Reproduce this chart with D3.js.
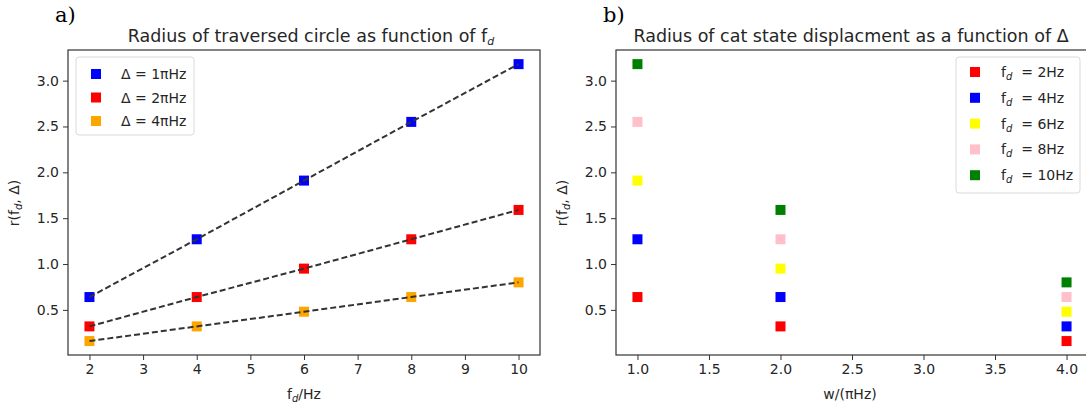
<!DOCTYPE html>
<html>
<head>
<meta charset="utf-8">
<script src="https://cdn.jsdelivr.net/npm/d3@7"></script>
<style>
  body { margin: 0; background: #fff; }
  text { font-family: "DejaVu Sans", sans-serif; fill: #262626; }
  .tick text { font-size: 14px; }
</style>
</head>
<body>
<div id="chart"></div>
<script>
// Panel a) data: radius vs drive frequency
var fdValues = [2, 4, 6, 8, 10];
var rDelta1 = [0.64, 1.27, 1.91, 2.55, 3.18];
var rDelta2 = [0.32, 0.64, 0.95, 1.27, 1.59];
var rDelta4 = [0.16, 0.32, 0.48, 0.64, 0.80];
var deltaLabels = ["Δ = 1πHz", "Δ = 2πHz", "Δ = 4πHz"];
var deltaColors = ["#0000ff", "#ff0000", "#ffa500"];

// Panel b) data: radius vs w
var wValues = [1, 2, 4];
var rFd2 = [0.64, 0.32, 0.16];
var rFd4 = [1.27, 0.64, 0.32];
var rFd6 = [1.91, 0.95, 0.48];
var rFd8 = [2.55, 1.27, 0.64];
var rFd10 = [3.18, 1.59, 0.80];
var fdLabels = ["2Hz", "4Hz", "6Hz", "8Hz", "10Hz"];
var fdColors = ["#ff0000", "#0000ff", "#ffff00", "#ffc0cb", "#008000"];

var yTicks = [0.5, 1.0, 1.5, 2.0, 2.5, 3.0];
var xTicksA = [2, 3, 4, 5, 6, 7, 8, 9, 10];
var xTicksB = [1.0, 1.5, 2.0, 2.5, 3.0, 3.5, 4.0];

var svg = d3.select("#chart").append("svg")
  .attr("width", 1086)
  .attr("height", 407);

var plotTop = 50, plotBottom = 355;
var ms = 10; // marker size

function panel(opts) {
  var g = svg.append("g");
  var x = d3.scaleLinear().domain(opts.xDomain).range([opts.left, opts.right]);
  var y = d3.scaleLinear().domain([0.008, 3.334]).range([plotBottom, plotTop]);

  g.append("g")
    .attr("transform", `translate(0, ${plotBottom})`)
    .call(d3.axisBottom(x).tickValues(opts.xTicks).tickFormat(opts.xFormat).tickSize(5).tickPadding(4))
    .call(s => s.select(".domain").remove());
  g.append("g")
    .attr("transform", `translate(${opts.left}, 0)`)
    .call(d3.axisLeft(y).tickValues(yTicks).tickFormat(d3.format(".1f")).tickSize(5).tickPadding(4))
    .call(s => s.select(".domain").remove());
  g.selectAll(".tick line").attr("stroke", "#333");

  // frame
  g.append("rect")
    .attr("x", opts.left).attr("y", plotTop)
    .attr("width", opts.right - opts.left).attr("height", plotBottom - plotTop)
    .attr("fill", "none").attr("stroke", "#333").attr("stroke-width", 1.2);

  // title
  var t = g.append("text")
    .attr("x", (opts.left + Math.min(opts.right, 1086)) / 2 + opts.titleShift)
    .attr("y", 42)
    .attr("text-anchor", "middle")
    .style("font-size", "17.5px");
  opts.title(t);

  // panel letter
  g.append("text")
    .attr("x", opts.left - 13).attr("y", 22)
    .style("font-family", "'DejaVu Serif', serif")
    .style("font-size", "21px")
    .style("fill", "#000")
    .text(opts.letter);

  // axis labels
  var xl = g.append("text")
    .attr("x", (opts.left + opts.right) / 2 + opts.xLabelShift)
    .attr("y", 399)
    .attr("text-anchor", "middle")
    .style("font-size", "14px");
  opts.xLabel(xl);

  var yl = g.append("text")
    .attr("transform", `translate(${opts.left - 49}, 203) rotate(-90)`)
    .attr("text-anchor", "middle")
    .style("font-size", "14px");
  yl.append("tspan").text("r(f");
  yl.append("tspan").attr("font-size", "10px").attr("font-style", "italic").attr("dy", 3).text("d");
  yl.append("tspan").attr("dy", -3).text(", Δ)");

  return {g: g, x: x, y: y};
}

// ---------- Panel a ----------
var pa = panel({
  left: 68, right: 540, xDomain: [1.6, 10.4], xTicks: xTicksA, xFormat: d3.format("d"),
  letter: "a)", titleShift: 7, xLabelShift: 0,
  title: function(t) {
    t.append("tspan").text("Radius of traversed circle as function of f");
    t.append("tspan").attr("font-size", "11px").attr("font-style", "italic").attr("dy", 3).text("d");
  },
  xLabel: function(t) {
    t.append("tspan").text("f");
    t.append("tspan").attr("font-size", "10px").attr("font-style", "italic").attr("dy", 3).text("d");
    t.append("tspan").attr("dy", -3).text("/Hz");
  }
});

var seriesA = [rDelta1, rDelta2, rDelta4];
seriesA.forEach(function(vals, i) {
  var pts = fdValues.map((f, j) => [f, vals[j]]);
  pa.g.selectAll(null).data(pts).enter().append("rect")
    .attr("x", d => pa.x(d[0]) - ms / 2)
    .attr("y", d => pa.y(d[1]) - ms / 2)
    .attr("width", ms).attr("height", ms)
    .attr("fill", deltaColors[i]);
  pa.g.append("path")
    .datum(pts)
    .attr("d", d3.line().x(d => pa.x(d[0])).y(d => pa.y(d[1])))
    .attr("fill", "none")
    .attr("stroke", "#333")
    .attr("stroke-width", 2)
    .attr("stroke-dasharray", "6,3");
});

// legend a
var lga = pa.g.append("g");
lga.append("rect")
  .attr("x", 76).attr("y", 57).attr("width", 118).attr("height", 78).attr("rx", 3)
  .attr("fill", "#fff").attr("stroke", "#d9d9d9");
deltaLabels.forEach(function(lab, i) {
  var cy = 74 + i * 23.5;
  lga.append("rect").attr("x", 96 - 5).attr("y", cy - 5).attr("width", 10).attr("height", 10)
    .attr("fill", deltaColors[i]);
  lga.append("text").attr("x", 121).attr("y", cy + 5).style("font-size", "14px").text(lab);
});

// ---------- Panel b ----------
var pb = panel({
  left: 616, right: 1088, xDomain: [0.85, 4.15], xTicks: xTicksB, xFormat: d3.format(".1f"),
  letter: "b)", titleShift: 0, xLabelShift: -2,
  title: function(t) {
    t.text("Radius of cat state displacment as a function of Δ");
  },
  xLabel: function(t) { t.text("w/(πHz)"); }
});

var seriesB = [rFd2, rFd4, rFd6, rFd8, rFd10];
seriesB.forEach(function(vals, i) {
  pb.g.selectAll(null).data(wValues.map((w, j) => [w, vals[j]])).enter().append("rect")
    .attr("x", d => pb.x(d[0]) - ms / 2)
    .attr("y", d => pb.y(d[1]) - ms / 2)
    .attr("width", ms).attr("height", ms)
    .attr("fill", fdColors[i]);
});

// legend b
var lgb = pb.g.append("g");
lgb.append("rect")
  .attr("x", 956).attr("y", 57).attr("width", 124).attr("height", 136).attr("rx", 3)
  .attr("fill", "#fff").attr("stroke", "#d9d9d9");
fdLabels.forEach(function(lab, i) {
  var cy = 72 + i * 25.8;
  lgb.append("rect").attr("x", 975 - 5).attr("y", cy - 5).attr("width", 10).attr("height", 10)
    .attr("fill", fdColors[i]);
  var t = lgb.append("text").attr("x", 1001).attr("y", cy + 5).style("font-size", "14px")
    .attr("xml:space", "preserve");
  t.append("tspan").text("f");
  t.append("tspan").attr("font-size", "10px").attr("font-style", "italic").attr("dy", 3).text("d");
  t.append("tspan").attr("dy", -3).text("  = " + lab);
});
</script>
</body>
</html>
